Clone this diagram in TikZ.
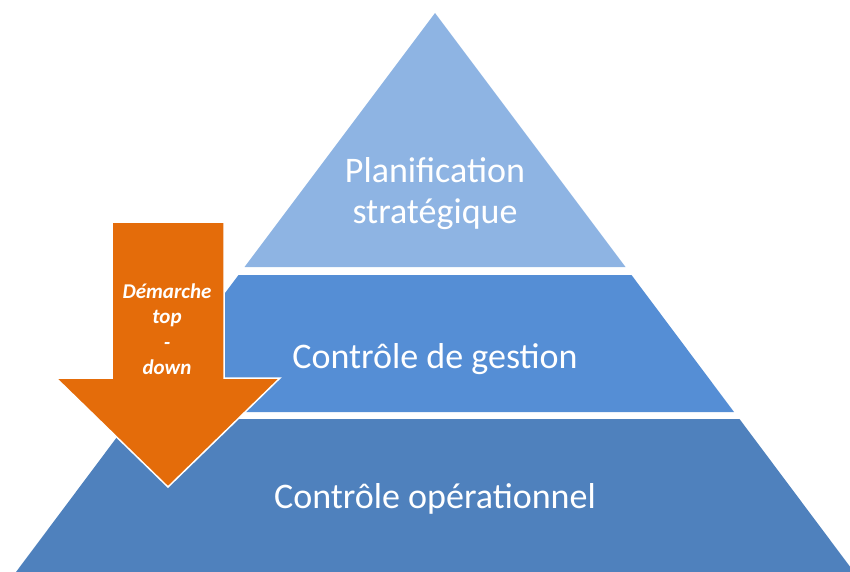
\documentclass[tikz,border=0pt]{standalone}
\usepackage{fontspec}
\setmainfont{Carlito}
\usetikzlibrary{positioning}

\definecolor{topblue}{RGB}{142,180,227}
\definecolor{midblue}{RGB}{85,142,213}
\definecolor{lowblue}{RGB}{79,129,189}
\definecolor{arroworange}{RGB}{228,108,10}

\begin{document}
\begin{tikzpicture}[x=1pt,y=-1pt,
    layertext/.style={text=white,align=center,inner sep=0pt,
        font=\fontsize{36}{41}\selectfont},
    arrowtext/.style={text=white,align=center,inner sep=0pt,
        font=\fontsize{21}{25.5}\selectfont\bfseries\itshape}
    ]
    \useasboundingbox (0,0) rectangle (850,572);

    % Pyramid layers
    \fill[topblue] (435,13) -- (625.5,267) -- (244.5,267) -- cycle;
    \fill[midblue] (238.5,275) -- (631.5,275) -- (734,412) -- (136,412) -- cycle;
    \fill[lowblue] (130.5,419) -- (739.5,419) -- (854,572) -- (16,572) -- cycle;

    \node[layertext] (strat) at (435,194) {Planification\\strat\'egique};
    \node[layertext] (gestion) at (435,359) {Contr\^ole de gestion};
    \node[layertext] (oper) at (435,499) {Contr\^ole op\'erationnel};

    % Top-down arrow
    \filldraw[fill=arroworange,draw=white,line width=1.5]
        (112,222) -- (224,222) -- (224,378) -- (280,378) -- (168,487)
        -- (56,378) -- (112,378) -- cycle;
    \node[arrowtext] (demarche) at (167,329) {D\'emarche\\top\\-\\down};
\end{tikzpicture}
\end{document}
